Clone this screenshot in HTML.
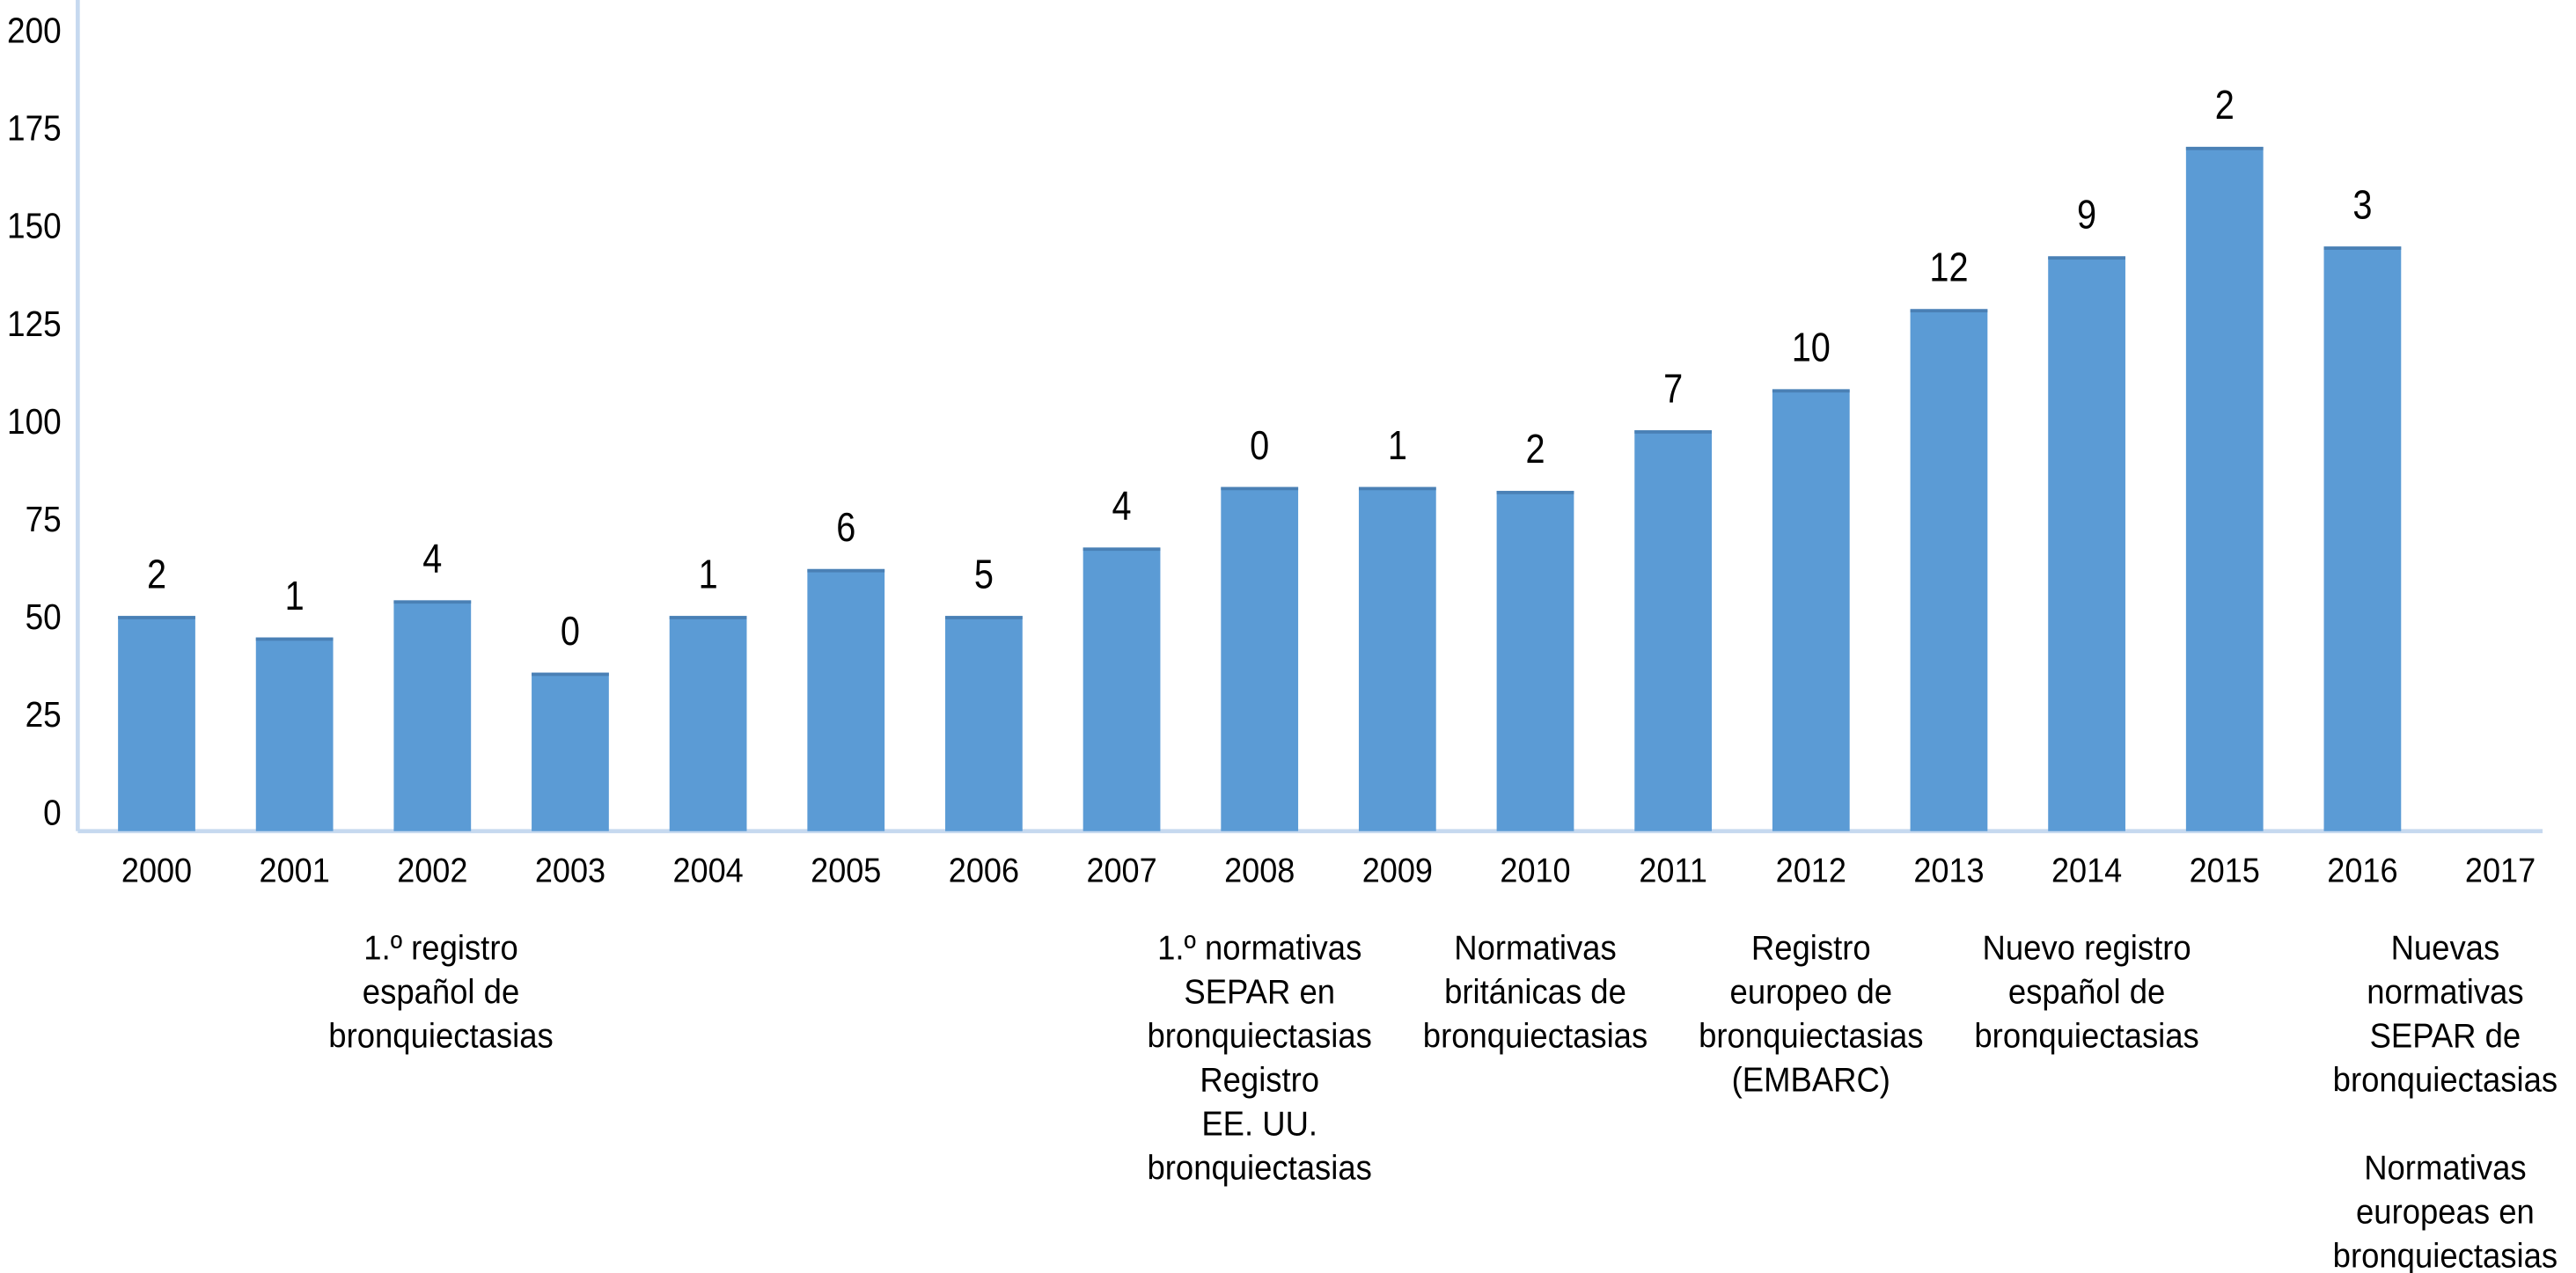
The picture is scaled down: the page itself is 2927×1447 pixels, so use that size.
<!DOCTYPE html>
<html><head><meta charset="utf-8"><style>
html,body{margin:0;padding:0;background:#fff;width:2927px;height:1447px;overflow:hidden}
svg{display:block}
text{font-family:"Liberation Sans",sans-serif;fill:#000}
</style></head><body>
<svg id="chart" width="2927" height="1447" viewBox="0 0 1567 775" xmlns="http://www.w3.org/2000/svg">
<g id="axes"></g>
<g id="bars"></g>
<g id="notes"></g>
</svg>
<script>
const years = ["2000","2001","2002","2003","2004","2005","2006","2007","2008","2009","2010","2011","2012","2013","2014","2015","2016","2017"];
const values = [50,44.5,54,35.5,50,62,50,67.5,83,83,82,97.5,108,128.5,142,170,144.5,null];
const barLabels = ["2","1","4","0","1","6","5","4","0","1","2","7","10","12","9","2","3",""];
const yTicks = [0,25,50,75,100,125,150,175,200];
const notes = [
  {year:"2002", lines:["1.º registro","español de","bronquiectasias"]},
  {year:"2008", lines:["1.º normativas","SEPAR en","bronquiectasias","Registro","EE. UU.","bronquiectasias"]},
  {year:"2010", lines:["Normativas","británicas de","bronquiectasias"]},
  {year:"2012", lines:["Registro","europeo de","bronquiectasias","(EMBARC)"]},
  {year:"2014", lines:["Nuevo registro","español de","bronquiectasias"]},
  {year:"2016.6", lines:["Nuevas","normativas","SEPAR de","bronquiectasias","","Normativas","europeas en","bronquiectasias"]}
];
const NS="http://www.w3.org/2000/svg";
function x(i){return 95+i*83.9;}
function y(v){return 494-2.38*v;}
const base=506, bw=47;
function mk(tag,attrs,parent,txt){const e=document.createElementNS(NS,tag);for(const k in attrs)e.setAttribute(k,attrs[k]);if(txt!==undefined)e.textContent=txt;parent.appendChild(e);return e;}
function tx(px,py,size,sx,anchor,parent,txt){
  return mk('text',{x:0,y:0,'font-size':size,'text-anchor':anchor,transform:'translate('+px+','+py+') scale('+sx+',1)'},parent,txt);
}
const axes=document.getElementById('axes'),bars=document.getElementById('bars'),notesG=document.getElementById('notes');
let el=mk('line',{x1:47,y1:0,x2:47,y2:base,stroke:'#c6d9ef','stroke-width':2.5},axes);


el=mk('line',{x1:47,y1:base,x2:1547,y2:base,stroke:'#c6d9ef','stroke-width':2.5},axes);


yTicks.forEach(t=>{
  const e=tx(37,y(t)+8,22,0.9,'end',axes,String(t));
  
  
});
years.forEach((yr,i)=>{
  const e=tx(x(i),537,21,0.92,'middle',axes,yr);
  
  
  const v=values[i];
  if(v===null)return;
  const top=y(v);
  const r=mk('rect',{x:x(i)-bw/2,y:top,width:bw,height:base-top,fill:'#5b9bd5'},bars);
  
  
  const t=mk('rect',{x:x(i)-bw/2,y:top,width:bw,height:2,fill:'#4a80b5'},bars);
  
  
  const l=tx(x(i),top-17,25,0.85,'middle',bars,barLabels[i]);
  
  
});
notes.forEach(n=>{
  const idx=parseFloat(n.year)-2000;
  const cx = n.year==="2002"?268:x(idx);
  const g=mk('g',{},notesG);
  
  
  n.lines.forEach((ln,j)=>{
    if(!ln)return;
    tx(cx,584+j*26.8,21,0.93,'middle',g,ln);
  });
});
</script>
</body></html>
